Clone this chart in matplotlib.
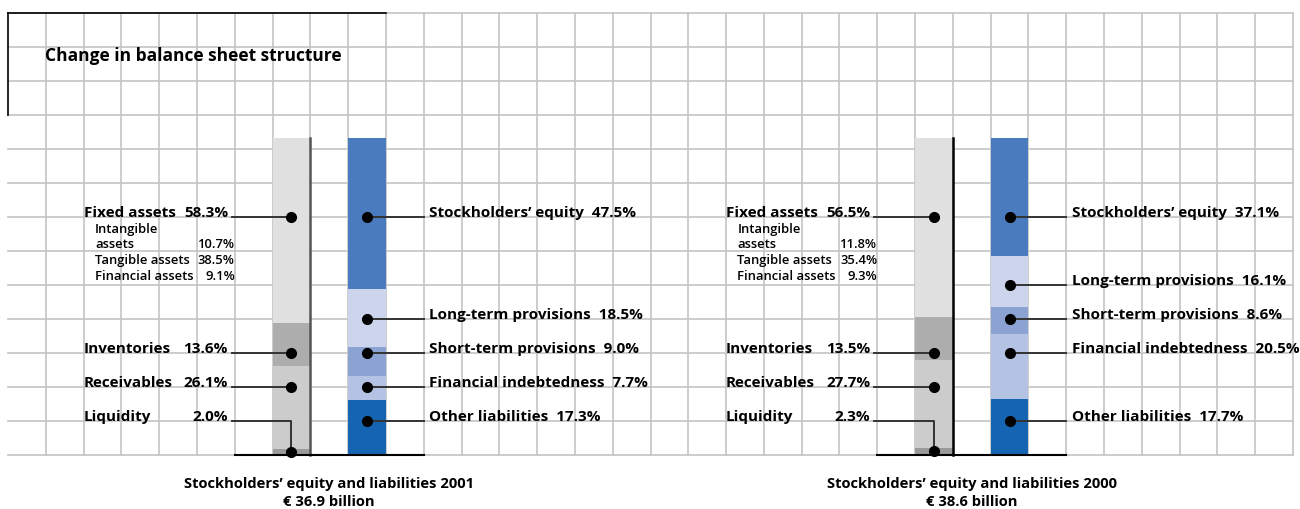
import numpy as np
import matplotlib.pyplot as plt

# balance sheet shares in %, listed bottom to top of each bar
asset_names = ['Liquidity', 'Receivables', 'Inventories', 'Fixed assets']
assets_2001 = [2.0, 26.1, 13.6, 58.3]
assets_2000 = [2.3, 27.7, 13.5, 56.5]

liab_names = ['Other liabilities', 'Financial indebtedness', 'Short-term provisions',
              'Long-term provisions', 'Stockholders\u2019 equity']
liabs_2001 = [17.3, 7.7, 9.0, 18.5, 47.5]
liabs_2000 = [17.7, 20.5, 8.6, 16.1, 37.1]

fixed_names = [['Intangible', 'assets'], ['Tangible assets'], ['Financial assets']]
fixed_2001 = [10.7, 38.5, 9.1]
fixed_2000 = [11.8, 35.4, 9.3]

captions = ['Stockholders\u2019 equity and liabilities 2001\n\u20ac 36.9 billion',
            'Stockholders\u2019 equity and liabilities 2000\n\u20ac 38.6 billion']

asset_colors = ['#9a9a9a', '#cccccc', '#adadad', '#e0e0e0']
liab_colors = ['#1565b3', '#b4c2e4', '#8ca2d3', '#cdd5ec', '#4a7bbf']

# grid row (from baseline) where each label sits
asset_rows = [1, 2, 3, 7]
liab_rows_2001 = [1, 2, 3, 4, 7]
liab_rows_2000 = [1, 3, 4, 5, 7]

# layout in grid units: 34 columns x 13 rows
NCOL, NROW = 34, 13
CW = (1293 - 8) / NCOL
RH = (455 - 13) / NROW
SCALE = 317 / RH / 100  # rows per percent

plt.rcParams['font.family'] = ['Open Sans', 'DejaVu Sans']

fig = plt.figure(figsize=(13, 5.09), dpi=100)
ax = fig.add_axes([0, 0, 1, 1])
ax.set_xlim(-8 / CW, (1300 - 8) / CW)
ax.set_ylim(-(509 - 455) / RH, 455 / RH)
ax.axis('off')

grid_c = '#c4c4c4'
for k in range(1, NCOL + 1):
    ax.plot([k, k], [0, NROW], color=grid_c, lw=1.2, zorder=0)
ax.plot([0, 0], [10, NROW], color='black', lw=1.2, zorder=1)
for r in range(0, NROW + 1):
    ax.plot([0, NCOL], [r, r], color=grid_c, lw=1.2, zorder=0)
ax.plot([0, 10], [NROW, NROW], color='black', lw=1.2, zorder=1)

ax.text(0.98, 11.6, 'Change in balance sheet structure', fontsize=12.5,
        fontweight='bold', ha='left', va='baseline')

lbl_kw = dict(fontsize=11, fontweight='bold', va='baseline')
sub_kw = dict(fontsize=9.4, fontweight='semibold', va='baseline')
lead_kw = dict(color='#333333', lw=1.4, zorder=3)
dot_kw = dict(marker='o', ms=7, color='black', zorder=4, ls='none')

panels = [(0, assets_2001, liabs_2001, fixed_2001, liab_rows_2001),
          (17, assets_2000, liabs_2000, fixed_2000, liab_rows_2000)]

for i, (off, assets, liabs, fixed, liab_rows) in enumerate(panels):
    xa = off + 7.5
    xl = off + 9.5
    # stacked bars
    ax.bar([xa] * len(assets), np.array(assets) * SCALE, width=1,
           bottom=np.concatenate([[0], np.cumsum(assets)[:-1]]) * SCALE,
           color=asset_colors, zorder=2)
    ax.bar([xl] * len(liabs), np.array(liabs) * SCALE, width=1,
           bottom=np.concatenate([[0], np.cumsum(liabs)[:-1]]) * SCALE,
           color=liab_colors, zorder=2)
    edge_c = '#555555' if i == 0 else 'black'
    ax.plot([off + 8, off + 8], [0, sum(assets) * SCALE], color=edge_c, lw=1.8, zorder=3)
    ax.plot([off + 6, off + 11], [0, 0], color='black', lw=1.5, zorder=3)

    # asset labels
    for name, val, row in zip(asset_names, assets, asset_rows):
        ax.text(off + 2, row, name, ha='left', **lbl_kw)
        ax.text(off + 5.82, row, f'{val:.1f}%', ha='right', **lbl_kw)
        if row == asset_rows[0]:
            ydot = val / 2 * SCALE
            ax.plot([off + 5.92, xa, xa], [row, row, ydot], **lead_kw)
            ax.plot(xa, ydot, **dot_kw)
        else:
            ax.plot([off + 5.92, xa], [row, row], **lead_kw)
            ax.plot(xa, row, **dot_kw)

    # fixed asset breakdown, one text per printed line
    y = 6.54
    for lines, val in zip(fixed_names, fixed):
        for line in lines:
            ax.text(off + 2.3, y, line, ha='left', **sub_kw)
            y -= 0.44
        ax.text(off + 6.0, y + 0.44, f'{val:.1f}%', ha='right', **sub_kw)
        y += 0.44 - 0.47

    # liability labels
    for name, val, row in zip(liab_names, liabs, liab_rows):
        ax.text(off + 11.15, row, f'{name}  {val:.1f}%', ha='left', **lbl_kw)
        ax.plot([xl, off + 11], [row, row], **lead_kw)
        ax.plot(xl, row, **dot_kw)

    ax.text(off + 8.5, -1.12, captions[i], ha='center', va='center',
            fontsize=10.6, fontweight='bold', linespacing=1.35)

fig.savefig('out.png', dpi=100, facecolor='white')
